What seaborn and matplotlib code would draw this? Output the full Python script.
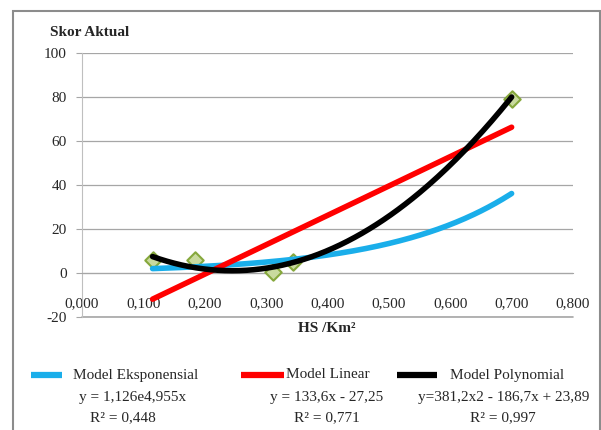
import numpy as np
import pandas as pd
import seaborn as sns
import matplotlib.pyplot as plt
from matplotlib.lines import Line2D
from matplotlib.patches import Rectangle

# Data
hs_km2 = [0.115, 0.184, 0.311, 0.344, 0.700]
skor_aktual = [6.0, 5.8, 0.5, 5.0, 79.0]

# Trendline coefficients as printed in the legend
exp_a, exp_b = 1.126, 4.955
lin_a, lin_b = 133.6, -27.25
poly_a, poly_b, poly_c = 381.2, -186.7, 23.89

x_ticks = [0.0, 0.1, 0.2, 0.3, 0.4, 0.5, 0.6, 0.7, 0.8]
x_tick_labels = ['0,000', '0,100', '0,200', '0,300', '0,400', '0,500', '0,600', '0,700', '0,800']
y_ticks = [-20, 0, 20, 40, 60, 80, 100]

sns.set_style('white')
plt.rcParams['font.family'] = ['Liberation Serif', 'DejaVu Serif']
plt.rcParams['axes.unicode_minus'] = False

W, H = 601, 430
fig = plt.figure(figsize=(W / 100, H / 100), dpi=100)
ax = fig.add_axes([82 / W, 1 - 317 / H, (573 - 82) / W, (317 - 53) / H])

xs = np.linspace(min(hs_km2), max(hs_km2), 200)
trend = pd.DataFrame({
    'x': xs,
    'exp': exp_a * np.exp(exp_b * xs),
    'lin': lin_a * xs + lin_b,
    'poly': poly_a * xs ** 2 + poly_b * xs + poly_c,
})
pts = pd.DataFrame({'x': hs_km2, 'y': skor_aktual})

sns.scatterplot(data=pts, x='x', y='y', ax=ax, marker='D', s=70,
                color='#C9DA9E', edgecolor='#86A83C', linewidth=1.5, zorder=3)
sns.lineplot(data=trend, x='x', y='exp', ax=ax, color='#1AAEEA', lw=4, zorder=4)
sns.lineplot(data=trend, x='x', y='lin', ax=ax, color='#FF0000', lw=4, zorder=4)
sns.lineplot(data=trend, x='x', y='poly', ax=ax, color='#000000', lw=4, zorder=5)

ax.set_xlim(0, 0.8)
ax.set_ylim(-20, 100)
ax.set_xticks(x_ticks)
ax.set_xticklabels(x_tick_labels)
ax.set_yticks(y_ticks)
ax.set_xlabel('')
ax.set_ylabel('')
ax.yaxis.grid(True, color='#A6A6A6', lw=0.9)
ax.axhline(-20, color='#A6A6A6', lw=1.2, clip_on=False, zorder=1)
ax.set_axisbelow(True)

for s in ['top', 'right']:
    ax.spines[s].set_visible(False)
ax.spines['left'].set_color('#BFBFBF')
ax.spines['bottom'].set_position(('data', 0))
ax.spines['bottom'].set_color('#A6A6A6')
ax.tick_params(axis='x', direction='out', length=5, color='#A6A6A6',
               pad=12.5, labelsize=11)
ax.tick_params(axis='y', direction='out', length=4, color='#A6A6A6',
               pad=7, labelsize=11, left=True)

fig.text(50 / W, 1 - 33 / H, 'Skor Aktual', fontsize=11, fontweight='bold',
         ha='left', va='center')
fig.text(327 / W, 1 - 328 / H, 'HS /Km²', fontsize=11, fontweight='bold',
         ha='center', va='center')

# Legend built by hand below the plot
legend_items = [
    ('#1AAEEA', 31, 62, 'Model Eksponensial', 73, 'y = 1,126e4,955x', 133, 'R² = 0,448', 123),
    ('#FF0000', 241, 284, 'Model Linear', 286, 'y = 133,6x - 27,25', 327, 'R² = 0,771', 327),
    ('#000000', 397, 437, 'Model Polynomial', 450, 'y=381,2x2 - 186,7x + 23,89', 504, 'R² = 0,997', 503),
]
for color, x0, x1, name, nx, eq, ex, r2, rx in legend_items:
    fig.add_artist(Line2D([x0 / W, x1 / W], [1 - 375 / H, 1 - 375 / H],
                          color=color, lw=4.5, solid_capstyle='butt',
                          transform=fig.transFigure))
    fig.text(nx / W, 1 - 375 / H, name, fontsize=11, ha='left', va='center')
    fig.text(ex / W, 1 - 398 / H, eq, fontsize=11, ha='center', va='center')
    fig.text(rx / W, 1 - 418 / H, r2, fontsize=11, ha='center', va='center')

fig.add_artist(Rectangle((13 / W, -0.05), (600 - 13) / W, 1.05 - 11 / H,
                         transform=fig.transFigure, fill=False,
                         edgecolor='#8C8C8C', lw=1.5))

fig.savefig('out.png', dpi=100)
